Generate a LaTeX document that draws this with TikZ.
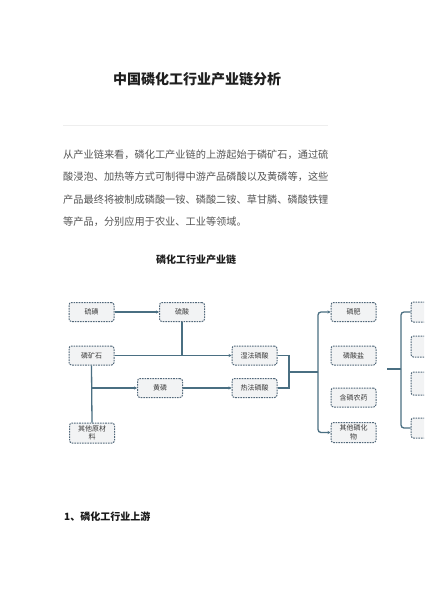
\documentclass[tikz,border=0pt]{standalone}
\usepackage{fontspec}
\newfontfamily\cjk{Noto Sans CJK SC}
\usetikzlibrary{arrows.meta}
\definecolor{linec}{HTML}{4A6F82}
\definecolor{boxc}{HTML}{52687A}
\definecolor{boxf}{HTML}{F2F3F4}
\definecolor{txt}{HTML}{3A3A3A}
\definecolor{para}{HTML}{555555}
\definecolor{sep}{HTML}{EEEEEE}
\begin{document}
\begin{tikzpicture}[x=1pt,y=-1pt,
  box/.style={draw=boxc, dash pattern=on 1.6pt off 1pt, line width=1pt, fill=boxf,
    rounded corners=2.5pt, minimum width=45pt, minimum height=19pt, inner sep=1pt,
    font=\cjk\fontsize{7}{8.5}\selectfont, text=txt, align=center},
  conn/.style={draw=linec, line width=1.3pt},
  arr/.style={conn, -{Stealth[length=3pt,width=3.2pt]}},
  paraline/.style={anchor=west, inner sep=0pt, text=para, font=\cjk\fontsize{10.2}{12}\selectfont},
]
\useasboundingbox (0,0) rectangle (424,600);
\clip (0,0) rectangle (424,600);
\fill[white] (0,0) rectangle (424,600);

% title
\node[inner sep=0pt, text=black!88, font=\cjk\bfseries\fontsize{14}{16}\selectfont] (title) at (197,79) {中国磷化工行业产业链分析};
\draw[sep, line width=0.8pt] (63,125) -- (328,125);

% paragraph
\node[paraline] (p1) at (63,155) {从产业链来看，磷化工产业链的上游起始于磷矿石，通过硫};
\node[paraline] (p2) at (63,177) {酸浸泡、加热等方式可制得中游产品磷酸以及黄磷等，这些};
\node[paraline] (p3) at (63,199.5) {产品最终将被制成磷酸一铵、磷酸二铵、草甘膦、磷酸铁锂};
\node[paraline] (p4) at (63,222) {等产品，分别应用于农业、工业等领域。};

% diagram title
\node[inner sep=0pt, text=black!88, font=\cjk\bfseries\fontsize{10}{12}\selectfont] (dt) at (196,260) {磷化工行业产业链};

% boxes
\node[box] (sl) at (91.5,312) {硫磺};
\node[box] (sa) at (182,312) {硫酸};
\node[box] (kc) at (91.5,355.5) {磷矿石};
\node[box] (hl) at (160,388) {黄磷};
\node[box, minimum height=20pt] (qt) at (92,433) {其他原材\\料};
\node[box] (sf) at (254.5,355.5) {湿法磷酸};
\node[box] (rf) at (254.5,388) {热法磷酸};
\node[box] (lf) at (353.5,312) {磷肥};
\node[box] (ly) at (353.5,355.5) {磷酸盐};
\node[box] (hn) at (353.5,397.5) {含磷农药};
\node[box, minimum height=20pt] (qh) at (353.5,432.5) {其他磷化\\物};
\node[box, minimum height=20pt] (r1) at (433.5,312) {};
\node[box, minimum height=21pt] (r2) at (433.5,346.5) {};
\node[box, minimum height=23pt] (r3) at (433.5,383.5) {};
\node[box, minimum height=20pt] (r4) at (433.5,428) {};

% connectors
\draw[arr] (sl) -- (sa);
\coordinate (j1) at (sa.south |- kc.east);
\draw[conn] (sa.south) -- (j1);
\draw[arr] (kc) -- (sf);
\draw[conn] (kc.south) -- (qt.north);
\coordinate (j2) at (kc.south |- hl.west);
\draw[arr] (j2) -- (hl.west);
\draw[arr] (hl) -- (rf);
\coordinate (b0) at (289,355.5);
\coordinate (b1) at (289,372);
\coordinate (b2) at (318,372);
\draw[conn] (sf.east) -- (b0) |- (rf.east);
\draw[conn] (b1) -- (b2);
\draw[arr, rounded corners=3pt] (b2) |- (lf.west);
\draw[arr, rounded corners=3pt] (b2) |- (qh.west);
\coordinate (s1) at (387,369);
\coordinate (s2) at (401,369);
\draw[conn] (s1) -- (s2);
\draw[conn, rounded corners=3pt] (s2) |- (r1.west);
\draw[conn, rounded corners=3pt] (s2) |- (r4.west);

% bottom heading
\node[anchor=west, inner sep=0pt, text=black!90, font=\cjk\bfseries\fontsize{10}{12}\selectfont] (h1) at (64,517) {1、磷化工行业上游};
\end{tikzpicture}
\end{document}
